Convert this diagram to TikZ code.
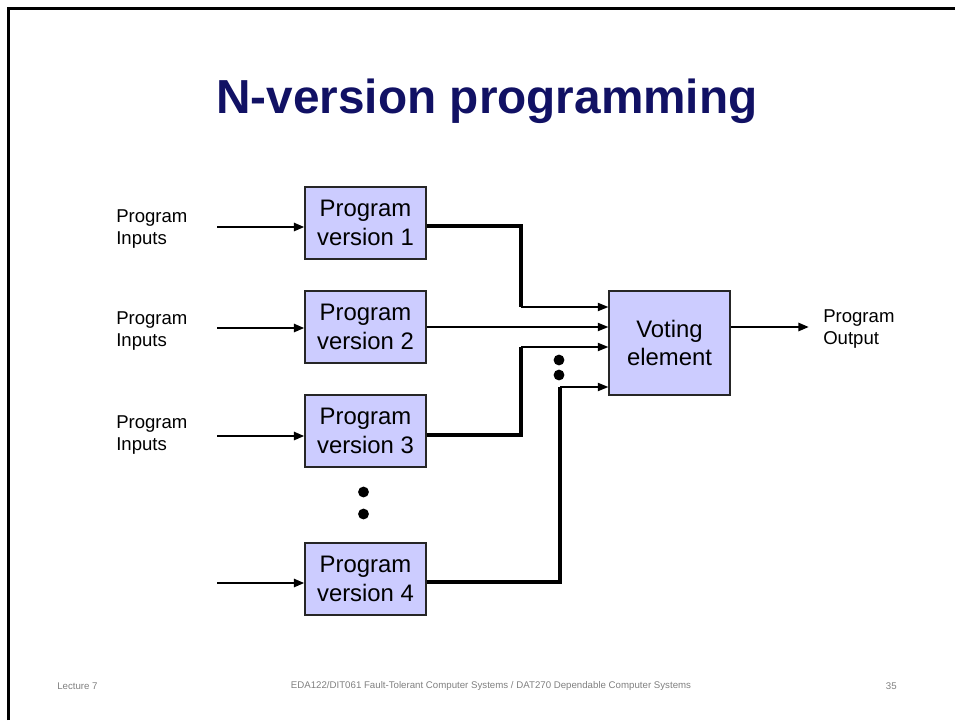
\documentclass[tikz,border=0pt]{standalone}
\usepackage{fontspec}
\setmainfont{Liberation Sans}
\usetikzlibrary{arrows.meta}
\definecolor{titlenavy}{RGB}{17,17,100}
\definecolor{boxfill}{RGB}{204,204,255}
\definecolor{footgray}{RGB}{128,128,128}

\begin{document}
\begin{tikzpicture}[x=0.75393pt, y=-0.75393pt,
  stagebox/.style={draw=black!85, line width=0.8pt, fill=boxfill, inner sep=0pt,
    minimum width=91.2pt, minimum height=54.3pt, align=center,
    font=\fontsize{18}{21.3}\selectfont},
  votebox/.style={stagebox, minimum height=78.4pt},
  sidelabel/.style={anchor=west, align=left, inner sep=0pt,
    font=\fontsize{14}{16.4}\selectfont},
  footer/.style={text=footgray, inner sep=0pt, font=\fontsize{7.3}{9}\selectfont},
  inarrow/.style={line width=2pt, -{Triangle[length=8pt,width=6pt]}},
  feedarrow/.style={line width=1.5pt, -{Triangle[length=8pt,width=6pt]}},
  elbow/.style={line width=2.4pt},
  dot/.style={fill=black}
]
\useasboundingbox (0,0) rectangle (955,720);

% slide frame
\draw[line width=2pt] (8.5,720) -- (8.5,8.5) -- (955,8.5);

% title
\node[anchor=base, text=titlenavy, inner sep=0pt,
      font=\fontsize{36}{43}\selectfont\bfseries] (title) at (487,113) {N-version programming};

% program versions
\node[stagebox] (v1) at (365.5,223) {Program\\version 1};
\node[stagebox] (v2) at (365.5,327) {Program\\version 2};
\node[stagebox] (v3) at (365.5,431) {Program\\version 3};
\node[stagebox] (v4) at (365.5,579) {Program\\version 4};

% voter
\node[votebox] (vote) at (669.5,343) {Voting\\element};

% input labels
\node[sidelabel] (l1) at (116,229) {Program\\Inputs};
\node[sidelabel] (l2) at (116,331) {Program\\Inputs};
\node[sidelabel] (l3) at (116,435) {Program\\Inputs};
\node[sidelabel] (lo) at (823,329) {Program\\Output};

% input arrows
\coordinate (i1) at (217,227);
\coordinate (i2) at (217,328);
\coordinate (i3) at (217,436);
\coordinate (i4) at (217,583);
\draw[inarrow] (i1) -- (i1 -| v1.west);
\draw[inarrow] (i2) -- (i2 -| v2.west);
\draw[inarrow] (i3) -- (i3 -| v3.west);
\draw[inarrow] (i4) -- (i4 -| v4.west);

% routing points between versions and voter
\coordinate (o1) at (426,226);
\coordinate (c1) at (521,307);
\coordinate (o3) at (426,435);
\coordinate (c3) at (521,347);
\coordinate (o4) at (426,582);
\coordinate (c4) at (560,387);

\draw[elbow] (o1 -| v1.east) -| (c1);
\draw[feedarrow] (c1) -- (c1 -| vote.west);

\draw[feedarrow] (v2.east |- 0,327) -- (vote.west |- 0,327);

\draw[elbow] (o3 -| v3.east) -| (c3);
\draw[feedarrow] (c3) -- (c3 -| vote.west);

\draw[elbow] (o4 -| v4.east) -| (c4);
\draw[feedarrow] (c4) -- (c4 -| vote.west);

% output
\coordinate (out) at (809,327);
\draw[inarrow] (vote.east |- out) -- (out);

% ellipsis dots
\fill[dot] (559,360) circle[radius=4.1pt];
\fill[dot] (559,375) circle[radius=4.1pt];
\fill[dot] (363.5,492) circle[radius=4.1pt];
\fill[dot] (363.5,514) circle[radius=4.1pt];

% footer
\node[footer, anchor=west] (fl) at (57,686) {Lecture 7};
\node[footer] (fc) at (491,686) {EDA122/DIT061 Fault-Tolerant Computer Systems / DAT270 Dependable Computer Systems};
\node[footer, anchor=east] (fr) at (897,686) {35};
\end{tikzpicture}
\end{document}
